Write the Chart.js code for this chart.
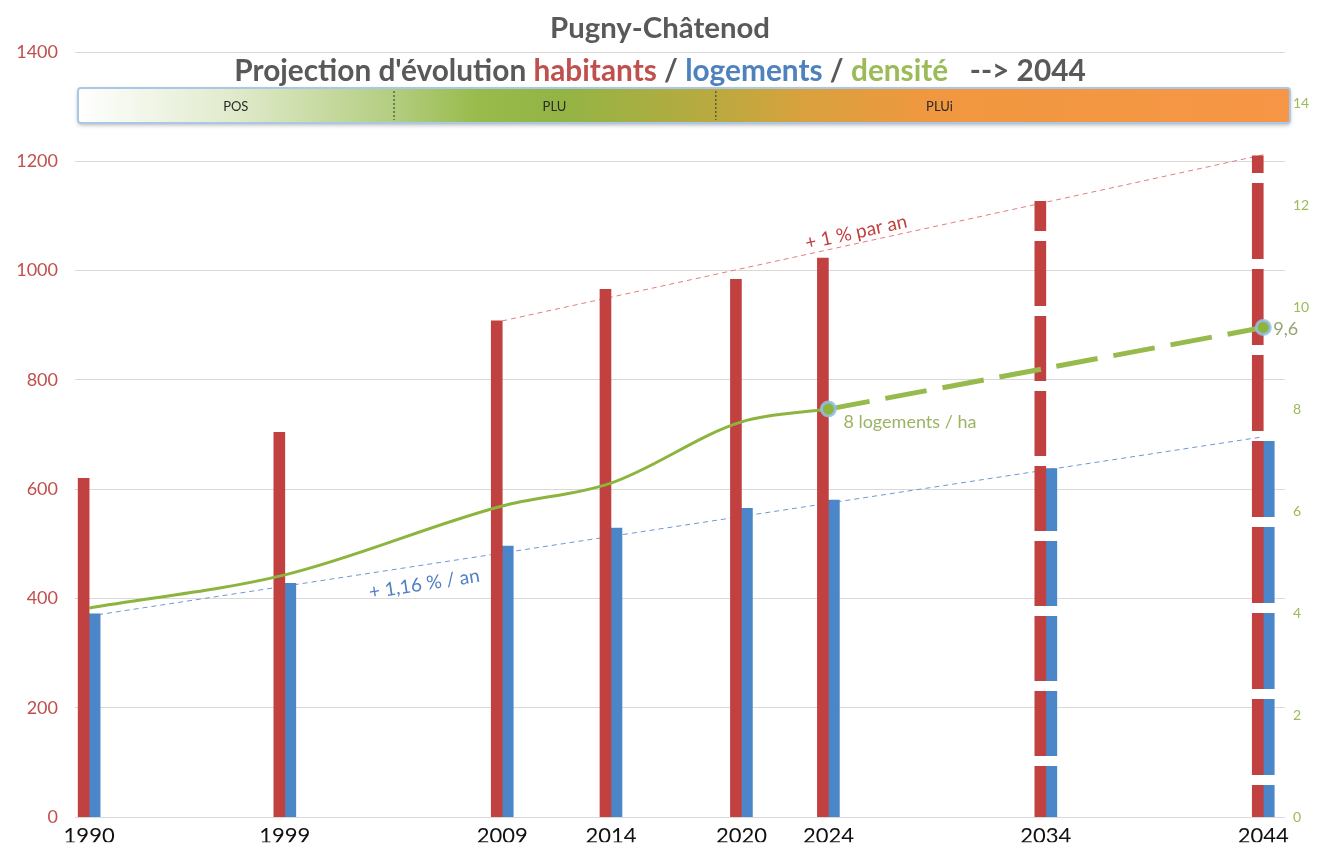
<!DOCTYPE html>
<html lang="fr">
<head>
<meta charset="utf-8">
<title>Pugny-Châtenod</title>
<script src="https://cdn.jsdelivr.net/npm/chart.js@4.4.1/dist/chart.umd.min.js"></script>
<style>
  html, body { margin: 0; padding: 0; background: #fff; overflow: hidden; }
  #wrap { position: relative; width: 1328px; height: 845px; }
</style>
</head>
<body>
<div id="wrap"><canvas id="evolution"></canvas></div>
<script>
// années, habitants et logements (2034 / 2044 = projections)
var annees = [1990, 1999, 2009, 2014, 2020, 2024, 2034, 2044];
var habitants = [620, 704, 908, 966, 984, 1023, 1127, 1210];
var logements = [372, 428, 496, 529, 565, 580, 638, 700];

// densité en logements / ha
var anneesDensite = [1990, 1999, 2009, 2014, 2020, 2024];
var densite = [4.1, 4.75, 6.1, 6.55, 7.75, 8.0];
var anneesProjection = [2024, 2034, 2044];
var densiteProjection = [8.0, 8.8, 9.6];

// droites de tendance
var anneesTendanceHab = [2009, 2044];
var tendanceHab = [908, 1212];
var anneesTendanceLog = [1990, 2044];
var tendanceLog = [368, 696];

var ticksGauche = [0, 200, 400, 600, 800, 1000, 1200, 1400];
var ticksDroite = [0, 2, 4, 6, 8, 10, 12, 14];

var periodes = ['POS', 'PLU', 'PLUi'];
var limitesPeriodes = [2004, 2018.8];
var anneesProjetees = [2034, 2044];

var ROUGE = '#c0413f';
var BLEU = '#4a86c8';
var VERT = '#8cb43f';
var VERT_CLAIR = '#97ba4d';
var POLICE = 'Lato, "Open Sans", sans-serif';

function points(xs, ys) {
  return xs.map(function (x, i) { return { x: x, y: ys[i] }; });
}

// barres projetées en tirets : motif vertical (période, décalage)
var canvas = document.getElementById('evolution');
var tirets = { 2034: [75, 6], 2044: [86, 1] };
function motif(couleur, periode, decalage) {
  var c = document.createElement('canvas');
  c.width = 4; c.height = periode;
  var g = c.getContext('2d');
  g.fillStyle = couleur;
  g.fillRect(0, 0, 4, periode);
  g.clearRect(0, decalage, 4, 10);
  return canvas.getContext('2d').createPattern(c, 'repeat');
}
var motifs = { rouge: {}, bleu: {} };
anneesProjetees.forEach(function (a) {
  motifs.rouge[a] = motif(ROUGE, tirets[a][0], tirets[a][1]);
  motifs.bleu[a] = motif(BLEU, tirets[a][0], tirets[a][1]);
});
function couleurBarre(couleur, cle) {
  return function (c) {
    var a = c.raw && c.raw.x;
    return anneesProjetees.indexOf(a) >= 0 ? motifs[cle][a] : couleur;
  };
}

function texteMulti(ctx, parties, cx, cy, largeur, poids) {
  var taille = 24;
  ctx.font = poids + ' ' + taille + 'px ' + POLICE;
  var total = 0;
  parties.forEach(function (p) { total += ctx.measureText(p[0]).width; });
  taille = taille * largeur / total;
  ctx.font = poids + ' ' + taille + 'px ' + POLICE;
  total = 0;
  parties.forEach(function (p) { total += ctx.measureText(p[0]).width; });
  var x = cx - total / 2;
  ctx.textBaseline = 'middle';
  ctx.textAlign = 'left';
  parties.forEach(function (p) {
    ctx.fillStyle = p[1];
    ctx.fillText(p[0], x, cy);
    x += ctx.measureText(p[0]).width;
  });
}

function etiquetteTendance(chart, xs, ys, t, ecart, texte, couleur) {
  var sx = chart.scales.x, sy = chart.scales.y;
  var x0 = sx.getPixelForValue(xs[0]), y0 = sy.getPixelForValue(ys[0]);
  var x1 = sx.getPixelForValue(xs[1]), y1 = sy.getPixelForValue(ys[1]);
  var ang = Math.atan2(y1 - y0, x1 - x0);
  var ctx = chart.ctx;
  ctx.save();
  ctx.translate(x0 + (x1 - x0) * t, y0 + (y1 - y0) * t);
  ctx.rotate(ang);
  ctx.font = '19px ' + POLICE;
  ctx.fillStyle = couleur;
  ctx.textAlign = 'center';
  ctx.textBaseline = 'middle';
  ctx.fillText(texte, 0, ecart);
  ctx.restore();
}

var decor = {
  id: 'decor',
  afterDatasetsDraw: function (chart) {
    var ctx = chart.ctx, sx = chart.scales.x, sd = chart.scales.yD;
    etiquetteTendance(chart, anneesTendanceHab, tendanceHab, 0.468, -11, '+ 1 % par an', ROUGE);
    etiquetteTendance(chart, anneesTendanceLog, tendanceLog, 0.283, 19, '+ 1,16 % / an', '#4f7fc4');

    ctx.save();
    ctx.textAlign = 'left';
    ctx.textBaseline = 'middle';
    ctx.font = '18px ' + POLICE;
    ctx.fillStyle = '#9bb463';
    var a = anneesDensite.length - 1;
    ctx.fillText('8 logements / ha', sx.getPixelForValue(anneesDensite[a]) + 15, sd.getPixelForValue(densite[a]) + 13);
    var b = anneesProjection.length - 1;
    ctx.fillStyle = '#95a673';
    ctx.fillText('9,6', sx.getPixelForValue(anneesProjection[b]) + 10, sd.getPixelForValue(densiteProjection[b]) + 2);
    ctx.restore();
  },
  afterDraw: function (chart) {
    var ctx = chart.ctx, area = chart.chartArea, sx = chart.scales.x;
    ctx.save();
    // titres
    texteMulti(ctx, [['Pugny-Châtenod', '#595959']], 660, 29, 220, 'bold');
    texteMulti(ctx, [
      ["Projection d'évolution ", '#595959'],
      ['habitants', '#c0504d'],
      [' / ', '#595959'],
      ['logements', '#4f81bd'],
      [' / ', '#595959'],
      ['densité', '#9bbb59'],
      ['   --> 2044', '#595959']
    ], 660, 71, 852, 'bold');

    // bandeau des documents d'urbanisme
    var x0 = area.left + 3, x1 = area.right + 5, y0 = 88, h = 35;
    var grad = ctx.createLinearGradient(x0, 0, x1, 0);
    grad.addColorStop(0, '#ffffff');
    grad.addColorStop(0.13, '#e0eacb');
    grad.addColorStop(0.26, '#b3cd80');
    grad.addColorStop(0.33, '#98bb4b');
    grad.addColorStop(0.40, '#93b444');
    grad.addColorStop(0.52, '#b8aa40');
    grad.addColorStop(0.60, '#d9a13d');
    grad.addColorStop(0.70, '#f0983f');
    grad.addColorStop(1, '#f79646');
    ctx.shadowColor = 'rgba(0,0,0,0.3)';
    ctx.shadowBlur = 4;
    ctx.shadowOffsetY = 2;
    ctx.beginPath();
    ctx.roundRect(x0, y0, x1 - x0, h, 3);
    ctx.fillStyle = grad;
    ctx.fill();
    ctx.shadowColor = 'transparent';
    ctx.lineWidth = 2;
    ctx.strokeStyle = '#a9c8e8';
    ctx.stroke();

    var bornes = [x0].concat(limitesPeriodes.map(function (v) { return sx.getPixelForValue(v); }), [x1]);
    ctx.setLineDash([2, 2]);
    ctx.lineWidth = 1;
    ctx.strokeStyle = '#333';
    for (var i = 1; i < bornes.length - 1; i++) {
      ctx.beginPath();
      ctx.moveTo(bornes[i] + 0.5, y0 + 3);
      ctx.lineTo(bornes[i] + 0.5, y0 + h - 3);
      ctx.stroke();
    }
    ctx.setLineDash([]);
    var fractions = [0.5, 0.5, 0.39];
    ctx.font = '13px ' + POLICE;
    ctx.fillStyle = '#2a2a2a';
    ctx.textAlign = 'center';
    ctx.textBaseline = 'middle';
    periodes.forEach(function (p, k) {
      ctx.fillText(p, bornes[k] + (bornes[k + 1] - bornes[k]) * fractions[k], y0 + h / 2 + 1);
    });
    ctx.restore();
  }
};

var evolution = new Chart(canvas, {
  type: 'bar',
  data: {
    datasets: [{
      type: 'line',
      label: 'densité',
      data: points(anneesDensite, densite),
      yAxisID: 'yD',
      borderColor: VERT,
      borderWidth: 3,
      cubicInterpolationMode: 'monotone',
      pointRadius: function (c) { return c.raw && c.raw.x === 2024 ? 7 : 0; },
      pointBackgroundColor: VERT,
      pointBorderColor: 'rgba(150,190,230,0.85)',
      pointBorderWidth: 3,
      order: 0
    }, {
      type: 'line',
      label: 'densité projetée',
      data: points(anneesProjection, densiteProjection),
      yAxisID: 'yD',
      borderColor: VERT_CLAIR,
      borderWidth: 5,
      borderDash: [42, 16],
      tension: 0.2,
      pointRadius: function (c) { return c.raw && c.raw.x === 2044 ? 7 : 0; },
      pointBackgroundColor: VERT,
      pointBorderColor: 'rgba(150,190,230,0.85)',
      pointBorderWidth: 3,
      order: 0
    }, {
      label: 'habitants',
      data: points(annees, habitants),
      yAxisID: 'y',
      backgroundColor: couleurBarre(ROUGE, 'rouge'),
      barThickness: 11,
      order: 1
    }, {
      label: 'logements',
      data: points(annees, logements),
      yAxisID: 'y',
      backgroundColor: couleurBarre(BLEU, 'bleu'),
      barThickness: 11,
      order: 1
    }, {
      type: 'line',
      label: 'tendance habitants',
      data: points(anneesTendanceHab, tendanceHab),
      yAxisID: 'y',
      borderColor: '#e57c7e',
      borderWidth: 1,
      borderDash: [5, 4],
      pointRadius: 0,
      order: 2
    }, {
      type: 'line',
      label: 'tendance logements',
      data: points(anneesTendanceLog, tendanceLog),
      yAxisID: 'y',
      borderColor: '#6f98d2',
      borderWidth: 1,
      borderDash: [5, 4],
      pointRadius: 0,
      order: 2
    }]
  },
  options: {
    responsive: true,
    maintainAspectRatio: false,
    animation: false,
    layout: { padding: { top: 52, left: 0, right: 0, bottom: 0 } },
    plugins: {
      legend: { display: false },
      tooltip: { enabled: false }
    },
    scales: {
      x: {
        type: 'linear',
        offset: false,
        min: 1989.35,
        max: 2045,
        afterBuildTicks: function (s) { s.ticks = annees.map(function (v) { return { value: v }; }); },
        afterFit: function (s) { s.height = 25; },
        grid: { display: false, drawTicks: false },
        border: { display: false },
        ticks: {
          color: '#111',
          font: { family: POLICE, size: 22 },
          padding: 6,
          autoSkip: false,
          maxRotation: 0,
          callback: function (v) { return String(v); }
        }
      },
      y: {
        position: 'left',
        min: 0,
        max: 1400,
        afterBuildTicks: function (s) { s.ticks = ticksGauche.map(function (v) { return { value: v }; }); },
        afterFit: function (s) { s.width = 75; },
        grid: { color: '#d9d9d9', drawTicks: false },
        border: { display: false },
        ticks: {
          color: '#c0504d',
          font: { family: POLICE, size: 18 },
          padding: 17,
          callback: function (v) { return String(v); }
        }
      },
      yD: {
        position: 'right',
        min: 0,
        max: 15,
        afterBuildTicks: function (s) { s.ticks = ticksDroite.map(function (v) { return { value: v }; }); },
        afterFit: function (s) { s.width = 43; },
        grid: { display: false, drawTicks: false },
        border: { display: false },
        ticks: { color: '#9bbb59', font: { family: POLICE, size: 14 }, padding: 8 }
      }
    }
  },
  plugins: [decor]
});
</script>
</body>
</html>
